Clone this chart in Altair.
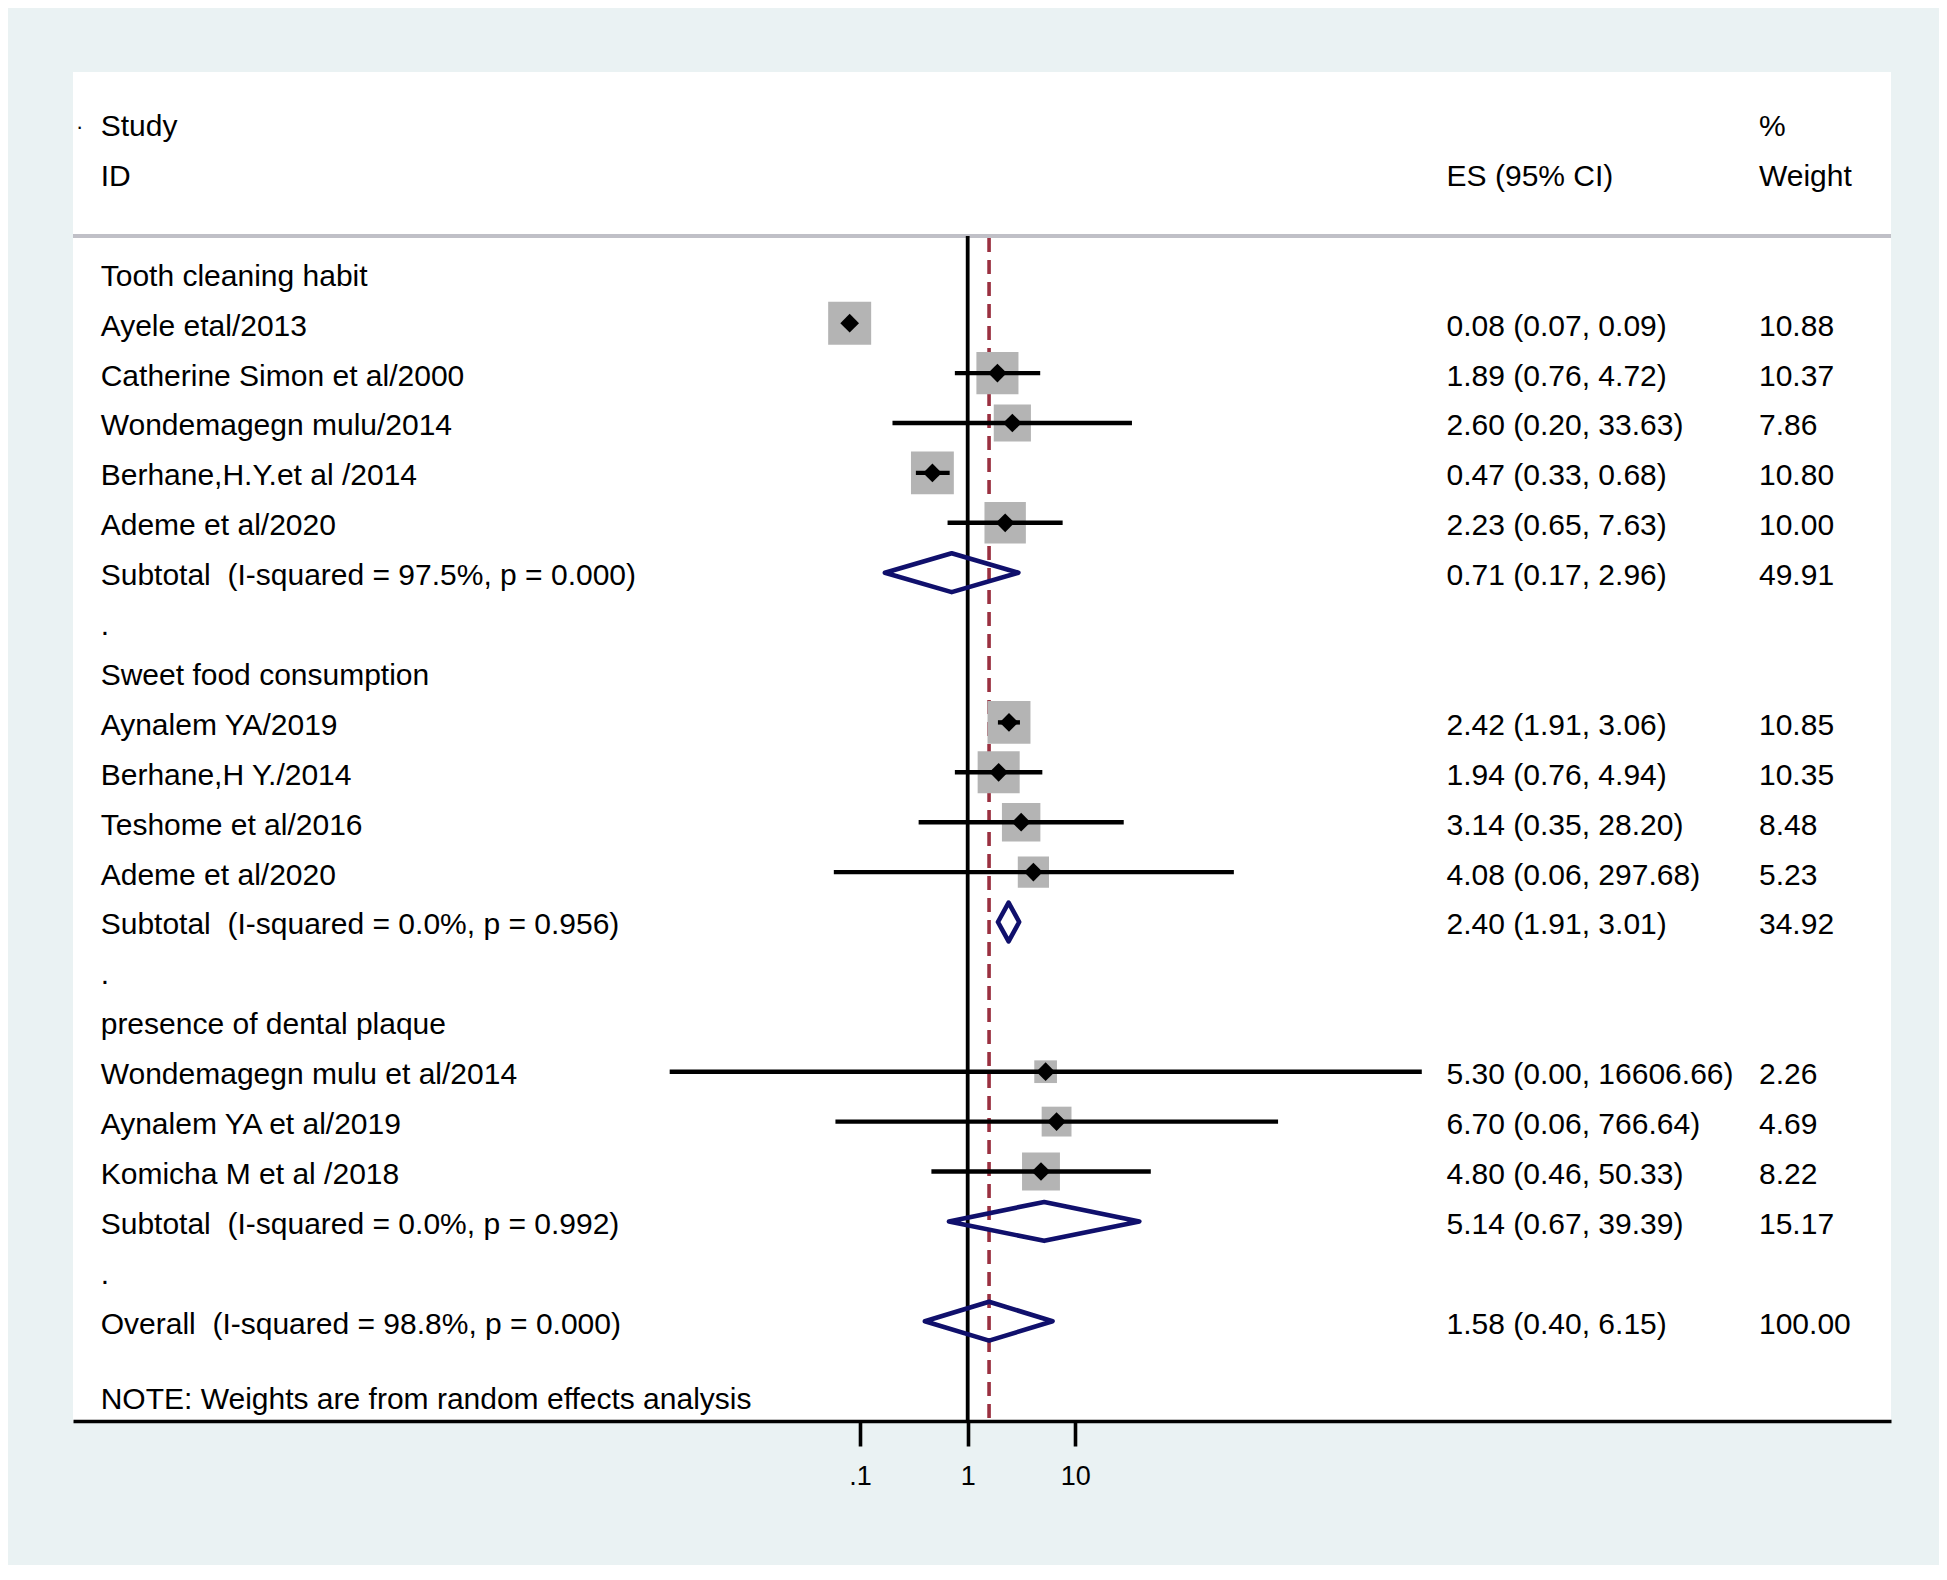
import altair as alt
import pandas as pd

# ---------------- data ----------------
group_names = ["Tooth cleaning habit", "Sweet food consumption", "presence of dental plaque"]
study_ids = [
    ["Ayele etal/2013", "Catherine Simon et al/2000", "Wondemagegn mulu/2014",
     "Berhane,H.Y.et al /2014", "Ademe et al/2020"],
    ["Aynalem YA/2019", "Berhane,H Y./2014", "Teshome et al/2016", "Ademe et al/2020"],
    ["Wondemagegn mulu et al/2014", "Aynalem YA et al/2019", "Komicha M et al /2018"],
]
study_es = [[0.08, 1.89, 2.60, 0.47, 2.23], [2.42, 1.94, 3.14, 4.08], [5.30, 6.70, 4.80]]
study_lo = [[0.07, 0.76, 0.20, 0.33, 0.65], [1.91, 0.76, 0.35, 0.057], [0.0017, 0.059, 0.46]]
study_hi = [[0.09, 4.72, 33.63, 0.68, 7.63], [3.06, 4.94, 28.20, 297.68], [16606.66, 766.64, 50.33]]
study_wt = [[10.88, 10.37, 7.86, 10.80, 10.00], [10.85, 10.35, 8.48, 5.23], [2.26, 4.69, 8.22]]

sub_i2 = ["97.5", "0.0", "0.0"]
sub_p = ["0.000", "0.956", "0.992"]
sub_es = [0.71, 2.40, 5.14]
sub_lo = [0.17, 1.91, 0.67]
sub_hi = [2.96, 3.01, 39.39]
sub_wt = [49.91, 34.92, 15.17]

overall_i2 = "98.8"
overall_p = "0.000"
overall_es = 1.58
overall_lo = 0.40
overall_hi = 6.15
overall_wt = 100.00

note_text = "NOTE: Weights are from random effects analysis"
tick_values = [0.1, 1, 10]

# ---------------- tables ----------------
NB = "\u00a0"
def es_txt(e, l, h):
    return f"{e:.2f} ({l:.2f}, {h:.2f})"

text_rows = [
    dict(row=-3, label="Study", es_t="", wt_t="%"),
    dict(row=-2, label="ID", es_t="ES (95% CI)", wt_t="Weight"),
]
study_pts = []
diamonds = []
r = 0
for g in range(len(group_names)):
    text_rows.append(dict(row=r, label=group_names[g], es_t="", wt_t=""))
    r += 1
    for i in range(len(study_ids[g])):
        e, l, h, w = study_es[g][i], study_lo[g][i], study_hi[g][i], study_wt[g][i]
        study_pts.append(dict(row=r, es=e, lo=l, hi=h, wt=w))
        text_rows.append(dict(row=r, label=study_ids[g][i], es_t=es_txt(e, l, h), wt_t=f"{w:.2f}"))
        r += 1
    text_rows.append(dict(row=r, label=f"Subtotal{NB} (I-squared = {sub_i2[g]}%, p = {sub_p[g]})",
                          es_t=es_txt(sub_es[g], sub_lo[g], sub_hi[g]), wt_t=f"{sub_wt[g]:.2f}"))
    diamonds.append(dict(id=g, row=r, es=sub_es[g], lo=sub_lo[g], hi=sub_hi[g]))
    r += 1
    text_rows.append(dict(row=r, label=".", es_t="", wt_t=""))
    r += 1
text_rows.append(dict(row=r, label=f"Overall{NB} (I-squared = {overall_i2}%, p = {overall_p})",
                      es_t=es_txt(overall_es, overall_lo, overall_hi), wt_t=f"{overall_wt:.2f}"))
diamonds.append(dict(id=9, row=r, es=overall_es, lo=overall_lo, hi=overall_hi))
text_rows.append(dict(row=r + 1.5, label=note_text, es_t="", wt_t=""))

txt = pd.DataFrame(text_rows)
pts = pd.DataFrame(study_pts)

HALF = 0.39
dpts = []
for d in diamonds:
    dpts += [dict(id=d["id"], o=0, x=d["lo"], y=d["row"]),
             dict(id=d["id"], o=1, x=d["es"], y=d["row"] - HALF),
             dict(id=d["id"], o=2, x=d["hi"], y=d["row"]),
             dict(id=d["id"], o=3, x=d["es"], y=d["row"] + HALF)]
dia = pd.DataFrame(dpts)
ovr = pd.DataFrame([dict(es=overall_es)])
ref = pd.DataFrame([dict(v=1)])

# ---------------- layout ----------------
W, H = 1818, 1349
SEP_Y = 164
FONT = "Liberation Sans"
xs = alt.Scale(type="log", domain=[10 ** -8.315, 10 ** 8.581], nice=False)
ys = alt.Scale(domain=[-4.034, 23.0], reverse=True, nice=False, zero=False)
xax = alt.Axis(values=tick_values, title=None, grid=False,
               labelExpr="datum.value < 0.5 ? '.1' : format(datum.value, 'd')")
Y = alt.Y("row:Q", scale=ys, axis=None)

sep = alt.Chart(ref).mark_rule(color="#c0c0c7", strokeWidth=4).encode(
    x=alt.value(0), x2=alt.value(W), y=alt.value(SEP_Y))
refline = alt.Chart(ref).mark_rule(color="black", strokeWidth=3.8).encode(
    x=alt.X("v:Q", scale=xs, axis=xax), y=alt.value(SEP_Y), y2=alt.value(H))
dashed = alt.Chart(ovr).mark_rule(color="#9a3040", strokeWidth=3.6, strokeDash=[14, 8]).encode(
    x=alt.X("es:Q", scale=xs, axis=xax), y=alt.value(SEP_Y + 2), y2=alt.value(H))
boxes = alt.Chart(pts).mark_point(shape="square", filled=True, opacity=1, color="#b4b4b4").encode(
    x=alt.X("es:Q", scale=xs, axis=xax), y=Y,
    size=alt.Size("wt:Q", scale=alt.Scale(domain=[2.26, 10.88], range=[515, 1849], zero=False), legend=None))
ci = alt.Chart(pts).mark_rule(color="black", strokeWidth=4.4).encode(
    x=alt.X("lo:Q", scale=xs, axis=xax), x2="hi:Q", y=Y)
dots = alt.Chart(pts).mark_point(shape="diamond", filled=True, opacity=1, color="black", size=350).encode(
    x=alt.X("es:Q", scale=xs, axis=xax), y=Y)
dia_l = alt.Chart(dia).mark_line(color="#10106c", strokeWidth=4.6, interpolate="linear-closed",
                                 strokeJoin="round").encode(
    x=alt.X("x:Q", scale=xs, axis=xax), y=alt.Y("y:Q", scale=ys, axis=None),
    detail="id:N", order="o:Q")

def col(field, xpix):
    return alt.Chart(txt).mark_text(align="left", baseline="middle", font=FONT, fontSize=30,
                                    color="black", dy=3.5).encode(
        x=alt.value(xpix), y=Y, text=f"{field}:N")

lab = col("label", 27.7)
est = col("es_t", 1373.6)
wtt = col("wt_t", 1686.0)
dot = alt.Chart(ref).mark_text(align="left", baseline="middle", font=FONT, fontSize=22,
                               color="black", dy=3).encode(
    x=alt.value(3), y=alt.datum(-3, scale=ys), text=alt.value("·"))

chart = alt.layer(sep, dashed, refline, boxes, ci, dots, dia_l, lab, est, wtt, dot).properties(
    width=W, height=H,
    autosize=alt.AutoSizeParams(type="none"),
    padding={"left": 65, "top": 64, "right": 48, "bottom": 144},
    background="#eaf2f3",
).configure_view(fill="white", strokeWidth=0).configure_axis(
    domainColor="black", domainWidth=3.6, tickColor="black", tickWidth=3.6, tickSize=25,
    labelFont=FONT, labelFontSize=27, labelColor="black", labelPadding=17,
)

chart.save("out.html", embed_options={"renderer": "svg", "actions": False})
